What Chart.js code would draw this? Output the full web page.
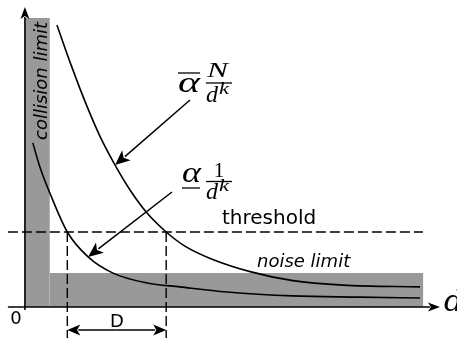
<!DOCTYPE html>
<html>
<head>
<meta charset="utf-8">
<script src="https://cdn.jsdelivr.net/npm/chart.js@4.4.1/dist/chart.umd.min.js"></script>
<style>
  body { margin: 0; background: #fff; }
  canvas { display: block; }
</style>
</head>
<body>
<canvas id="my-chart" width="457" height="338"></canvas>
<script>
//Canvas Element for chart.js
let ctx = document.getElementById('my-chart');

//Data (x = distance d, y = signal)
let upperX = [7.7, 11.1, 14.7, 18.1, 21.7, 25.3, 29.4, 34.0, 38.5, 44.6, 54.2, 64.5, 76.6, 95.1];
let upperY = [94.0, 80.7, 67.7, 56.8, 47.3, 39.0, 31.3, 25.0, 20.3, 16.2, 11.8, 8.8, 7.3, 6.7];
let lowerX = [1.9, 3.6, 6.0, 10.2, 15.2, 21.2, 29.4, 37.3, 48.6, 64.5, 80.7, 95.1];
let lowerY = [54.7, 46.7, 38.0, 25.0, 16.7, 11.3, 8.0, 6.7, 5.0, 3.7, 3.3, 3.0];

let thresholdX = [-4.1, 95.8];
let thresholdY = 25;
let crossX = [10.2, 34.0];
let collisionX = [0, 6.0];
let collisionTop = 96.3;
let noiseX = [6.0, 95.9];
let noiseTop = 11.3;

let xMin = -6;
let xMax = 104;
let yMin = -10.33;
let yMax = 102.33;

//helper to zip x and y arrays into points
function toPoints(xs, ys) {
  let pts = [];
  for (let i = 0; i < xs.length; i++) {
    pts.push({ x: xs[i], y: Array.isArray(ys) ? ys[i] : ys });
  }
  return pts;
}

//draw a line with a filled head at the end
function drawArrow(c, x1, y1, x2, y2, len, half) {
  let a = Math.atan2(y2 - y1, x2 - x1);
  let bx = x2 - len * Math.cos(a);
  let by = y2 - len * Math.sin(a);
  c.beginPath();
  c.moveTo(x1, y1);
  c.lineTo(bx + 2 * Math.cos(a), by + 2 * Math.sin(a));
  c.stroke();
  c.beginPath();
  c.moveTo(x2, y2);
  c.lineTo(bx - half * Math.sin(a), by + half * Math.cos(a));
  c.lineTo(bx + 0.25 * len * Math.cos(a), by + 0.25 * len * Math.sin(a));
  c.lineTo(bx + half * Math.sin(a), by - half * Math.cos(a));
  c.closePath();
  c.fill();
}

//text squeezed or stretched to a given width
function fitText(c, str, x, y, font, width) {
  c.save();
  c.font = font;
  let w = c.measureText(str).width;
  c.translate(x, y);
  c.scale(width / w, 1);
  c.textAlign = 'left';
  c.fillText(str, 0, 0);
  c.restore();
}

let annotations = {
  id: 'annotations',
  afterDatasetsDraw(chart) {
    let c = chart.ctx;
    let sx = chart.scales.x;
    let sy = chart.scales.y;
    let px = (v) => sx.getPixelForValue(v);
    let py = (v) => sy.getPixelForValue(v);

    c.save();
    c.strokeStyle = '#000';
    c.fillStyle = '#000';
    c.lineWidth = 1.6;

    //axes
    drawArrow(c, px(-4.1), py(0), px(99.9), py(0), 12, 4.5);
    drawArrow(c, px(0), py(-1), px(0), py(100), 12, 4.5);

    //pointers to the curves
    c.lineWidth = 1.5;
    drawArrow(c, 190, 100, px(upperX[4]), py(upperY[4]), 15, 6.5);
    drawArrow(c, 172, 192, px(lowerX[4]), py(lowerY[4]), 15, 6.5);

    //D dimension
    let dy = py(-7.7);
    drawArrow(c, (px(crossX[0]) + px(crossX[1])) / 2, dy, px(crossX[0]), dy, 13, 5.5);
    drawArrow(c, (px(crossX[0]) + px(crossX[1])) / 2, dy, px(crossX[1]), dy, 13, 5.5);

    //plain labels
    c.textAlign = 'left';
    c.textBaseline = 'alphabetic';
    c.font = '20px "DejaVu Sans"';
    c.fillText('threshold', 222, 224);
    c.font = 'italic 18px "DejaVu Sans"';
    c.fillText('noise limit', 257, 267);
    c.font = '18px "DejaVu Sans"';
    c.textAlign = 'center';
    c.fillText('0', 16, 324);
    c.fillText('D', 117, 327);

    c.save();
    c.translate(47, 140);
    c.rotate(-Math.PI / 2);
    c.textAlign = 'left';
    c.font = 'italic 18px "DejaVu Sans"';
    c.fillText('collision limit', 0, 0);
    c.restore();

    //axis name
    c.textAlign = 'left';
    c.font = 'italic 30px "DejaVu Serif"';
    c.fillText('d', 444, 311);

    //upper formula: overline alpha N / d^k
    c.lineWidth = 1.3;
    fitText(c, '\u03b1', 178, 92, 'italic 29px "Liberation Serif"', 22);
    c.beginPath(); c.moveTo(178, 73); c.lineTo(200, 73); c.stroke();
    fitText(c, 'N', 207, 77, 'italic 20px "Liberation Serif"', 21);
    c.beginPath(); c.moveTo(206, 83); c.lineTo(232, 83); c.stroke();
    fitText(c, 'd', 206, 102, 'italic 23px "Liberation Serif"', 12);
    fitText(c, 'k', 219, 94, 'italic 16px "Liberation Serif"', 10);

    //lower formula: underline alpha 1 / d^k
    fitText(c, '\u03b1', 182, 182, 'italic 29px "Liberation Serif"', 19);
    c.beginPath(); c.moveTo(182, 188); c.lineTo(200, 188); c.stroke();
    c.font = '21px "Liberation Serif"';
    c.textAlign = 'center';
    c.fillText('1', 219, 177);
    c.beginPath(); c.moveTo(206, 181.5); c.lineTo(232, 181.5); c.stroke();
    fitText(c, 'd', 206, 199, 'italic 23px "Liberation Serif"', 12);
    fitText(c, 'k', 219, 191, 'italic 16px "Liberation Serif"', 10);

    c.restore();
  }
};

let chartObject = {
  type: 'line',
  data: {
    datasets: [{
      data: toPoints(upperX, upperY),
      borderColor: '#000',
      borderWidth: 1.6,
      cubicInterpolationMode: 'monotone',
      fill: false
    },
    {
      data: toPoints(lowerX, lowerY),
      borderColor: '#000',
      borderWidth: 1.6,
      cubicInterpolationMode: 'monotone',
      fill: false
    },
    {
      data: toPoints(thresholdX, thresholdY),
      borderColor: '#000',
      borderWidth: 1.4,
      borderDash: [10, 4],
      fill: false
    },
    {
      data: toPoints([crossX[0], crossX[0]], [thresholdY, yMin]),
      borderColor: '#000',
      borderWidth: 1.4,
      borderDash: [10, 4],
      fill: false
    },
    {
      data: toPoints([crossX[1], crossX[1]], [thresholdY, yMin]),
      borderColor: '#000',
      borderWidth: 1.4,
      borderDash: [10, 4],
      fill: false
    },
    {
      data: toPoints(collisionX, collisionTop),
      borderWidth: 0,
      borderColor: 'rgba(0,0,0,0)',
      backgroundColor: '#999999',
      fill: 'origin'
    },
    {
      data: toPoints(noiseX, noiseTop),
      borderWidth: 0,
      borderColor: 'rgba(0,0,0,0)',
      backgroundColor: '#999999',
      fill: 'origin'
    }]
  },
  options: {
    responsive: false,
    animation: false,
    devicePixelRatio: 1,
    layout: { padding: 0 },
    elements: { point: { radius: 0 } },
    plugins: {
      legend: { display: false },
      tooltip: { enabled: false }
    },
    scales: {
      x: { type: 'linear', min: xMin, max: xMax, display: false },
      y: { min: yMin, max: yMax, display: false }
    }
  },
  plugins: [annotations]
};

const myChart = new Chart(ctx, chartObject); //eslint-disable-line
</script>
</body>
</html>
